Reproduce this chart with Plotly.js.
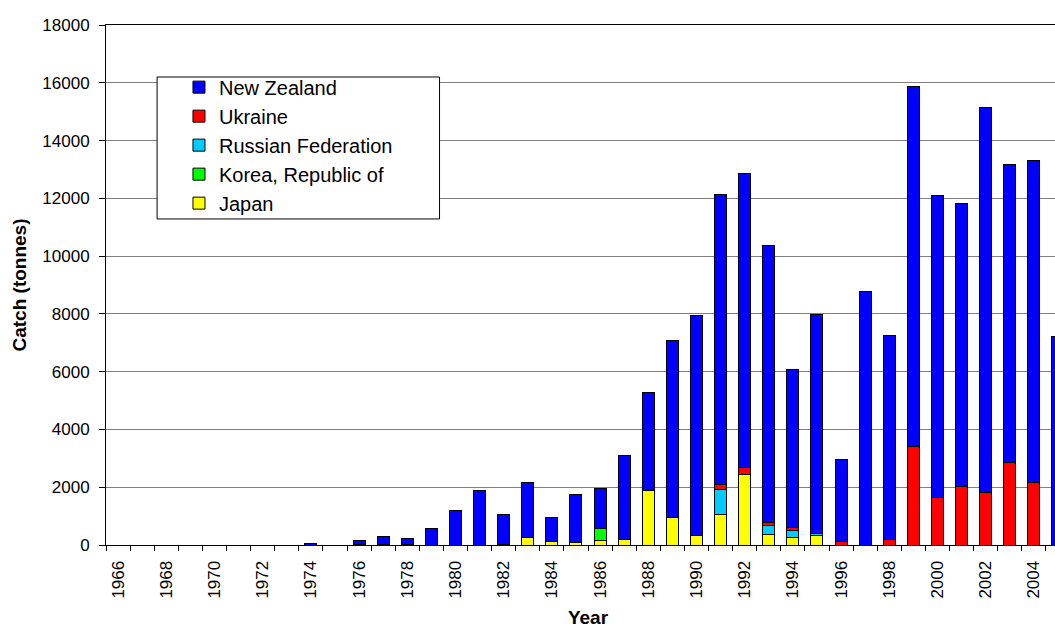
<!DOCTYPE html>
<html>
<head>
<meta charset="utf-8">
<script src="https://cdn.plot.ly/plotly-3.0.1.min.js"></script>
<style>
html,body{margin:0;padding:0;overflow:hidden;background:#fff;}
#chart{width:1072px;height:628px;}
</style>
</head>
<body>
<div id="chart"></div>
<script>
const years = [1966,1967,1968,1969,1970,1971,1972,1973,1974,1975,1976,1977,1978,1979,1980,1981,1982,1983,1984,1985,1986,1987,1988,1989,1990,1991,1992,1993,1994,1995,1996,1997,1998,1999,2000,2001,2002,2003,2004,2005];
const japan = [0,0,0,0,0,0,0,0,0,0,30,30,30,0,0,0,30,250,130,80,140,200,1890,960,340,1060,2430,370,245,315,0,0,0,0,0,0,0,0,0,0];
const korea = [0,0,0,0,0,0,0,0,0,0,0,0,0,0,0,0,0,0,0,0,415,0,0,0,0,0,0,0,0,0,0,0,0,0,0,0,0,0,0,0];
const russia = [0,0,0,0,0,0,0,0,0,0,0,0,0,0,0,0,0,0,0,0,0,0,0,0,0,850,0,310,250,90,0,0,0,0,0,0,0,0,0,0];
const ukraine = [0,0,0,0,0,0,0,0,0,0,0,0,0,0,0,0,0,0,0,0,0,0,0,0,0,185,240,100,105,0,127,0,207,3427,1638,2042,1811,2849,2156,0];
const newZealand = [0,0,0,0,0,0,0,0,50,0,133,258,202,565,1200,1893,1043,1920,839,1685,1384,2881,3382,6136,7621,10050,10176,9588,5458,7557,2839,8768,7062,12461,10466,9772,13326,10339,11160,7224];
const yTicks = [0,2000,4000,6000,8000,10000,12000,14000,16000,18000];
const xTickYears = years.filter(y => y % 2 === 0);

const font = "'Liberation Sans', Arial, sans-serif";
const series = [
  {name:'Japan', y:japan, color:'#FFFF00'},
  {name:'Korea, Republic of', y:korea, color:'#00FF00'},
  {name:'Russian Federation', y:russia, color:'#00CCFF'},
  {name:'Ukraine', y:ukraine, color:'#FF0000'},
  {name:'New Zealand', y:newZealand, color:'#0000FF'}
];
const traces = series.map(s => ({
  type:'bar', x:years, y:s.y, name:s.name,
  marker:{color:s.color, line:{color:'#000', width:1}},
  hoverinfo:'x+y+name'
}));
traces.push({type:'scatter', x:[years[0]], y:[0], xaxis:'x2', showlegend:false, hoverinfo:'skip', mode:'markers', marker:{opacity:0}});

const boundaries = years.map(y => y - 0.5).concat([years[years.length-1] + 0.5]);
const xr = [years[0]-0.5, years[years.length-1]+0.5];

const layout = {
  width:1072, height:628,
  margin:{l:106, r:2, t:25, b:83},
  paper_bgcolor:'#fff', plot_bgcolor:'#fff',
  barmode:'stack', bargap:0.5,
  font:{family:font, color:'#000', size:17},
  showlegend:true,
  legend:{x:0.0757, y:0.918, xanchor:'left', yanchor:'top', traceorder:'reversed',
    bgcolor:'rgba(0,0,0,0)', borderwidth:0, font:{size:20, family:font}},
  shapes:[{type:'rect', xref:'paper', yref:'paper', x0:0.053, x1:0.346, y0:0.627, y1:0.9,
    line:{color:'#000', width:1}, fillcolor:'#fff', layer:'above'}],
  xaxis:{range:xr, tickmode:'array', tickvals:xTickYears, ticktext:xTickYears.map(String),
    tickangle:-90, ticks:'', showgrid:false, zeroline:false, ticklabelstandoff:8,
    showline:true, linecolor:'#000', linewidth:1, mirror:true,
    tickfont:{size:17}, title:{text:'<b>Year</b>', font:{size:19}, standoff:14}},
  xaxis2:{range:xr, overlaying:'x', side:'bottom', tickmode:'array', tickvals:boundaries,
    showticklabels:false, ticks:'outside', ticklen:5, tickcolor:'#000', showgrid:false, zeroline:false, showline:false},
  yaxis:{range:[0,18000], tickmode:'array', tickvals:yTicks, ticktext:yTicks.map(String),
    ticks:'outside', ticklen:6, tickcolor:'#000', showgrid:true, gridcolor:'#808080', gridwidth:1,
    zeroline:false, showline:true, linecolor:'#000', linewidth:1, mirror:true, ticklabelstandoff:6,
    tickfont:{size:17}, title:{text:'<b>Catch (tonnes)</b>', font:{size:19}, standoff:10}}
};
Plotly.newPlot('chart', traces, layout, {displayModeBar:false, staticPlot:true});
</script>
</body>
</html>
